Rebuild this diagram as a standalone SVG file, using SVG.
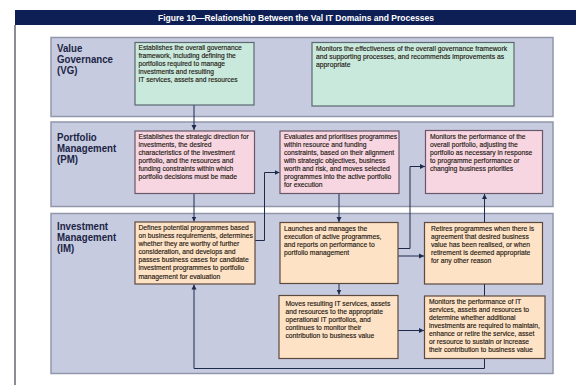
<svg xmlns="http://www.w3.org/2000/svg" width="576" height="385" viewBox="0 0 576 385">
<style>
.band{fill:#c6cbe0;stroke:#9196ab;stroke-width:1.5}
.lbl{font-family:"Liberation Sans",Arial,sans-serif;font-weight:bold;font-size:11px;fill:#1c2444}
.t{font-family:"Liberation Sans",Arial,sans-serif;font-size:7.5px;fill:#24160f;stroke:#24160f;stroke-width:0.15}
.vg{fill:#c9e9dd;stroke:#5d6870;stroke-width:1.2}
.pm{fill:#f7d6e2;stroke:#6a5868;stroke-width:1.2}
.im{fill:#fde2c6;stroke:#5e4a3c;stroke-width:1.2}
.c{fill:none;stroke:#1e2a4a;stroke-width:1}
</style>
<defs>
<marker id="ah" markerWidth="6" markerHeight="6" refX="5" refY="3" orient="auto" markerUnits="userSpaceOnUse">
<path d="M0,0.5 L5,3 L0,5.5 Z" fill="#1e2a4a"/>
</marker>
</defs>
<rect x="0" y="0" width="576" height="385" fill="#ffffff"/>
<g id="frame">
<rect x="15" y="10" width="561" height="15" fill="#0e1f55"/>
<line x1="15" y1="25" x2="15" y2="385" stroke="#1a1a2a" stroke-width="1"/>
<text transform="translate(296,20.5) scale(0.95 1)" text-anchor="middle" font-family="Liberation Sans, Arial, sans-serif" font-weight="bold" font-size="9" fill="#ffffff">Figure 10—Relationship Between the Val IT Domains and Processes</text>
</g>
<g id="band-vg">
<rect class="band" x="51" y="37.5" width="502" height="79"/>
<text class="lbl" transform="translate(57,52) scale(0.88 1)"><tspan x="0" y="0">Value</tspan><tspan x="0" y="11.2">Governance</tspan><tspan x="0" y="22.4">(VG)</tspan></text>
</g>
<g id="band-pm">
<rect class="band" x="51" y="122" width="502" height="84.5"/>
<text class="lbl" transform="translate(57,140.5) scale(0.88 1)"><tspan x="0" y="0">Portfolio</tspan><tspan x="0" y="11.5">Management</tspan><tspan x="0" y="23">(PM)</tspan></text>
</g>
<g id="band-im">
<rect class="band" x="51" y="213.5" width="502" height="160"/>
<text class="lbl" transform="translate(57,229.5) scale(0.88 1)"><tspan x="0" y="0">Investment</tspan><tspan x="0" y="11.5">Management</tspan><tspan x="0" y="23">(IM)</tspan></text>
</g>
<g id="connectors">
<path class="c" d="M194,105 V130" marker-end="url(#ah)"/>
<path class="c" d="M194,193.5 V221.5" marker-end="url(#ah)"/>
<path class="c" d="M255,240.5 H264.5 V172.5 H279.5" marker-end="url(#ah)"/>
<path class="c" d="M339,193.5 V222" marker-end="url(#ah)"/>
<path class="c" d="M398,248.5 H410 V166.5 H425" marker-end="url(#ah)"/>
<path class="c" d="M398,256 H424" marker-end="url(#ah)"/>
<path class="c" d="M339,283.5 V294.5" marker-end="url(#ah)"/>
<path class="c" d="M398,330.5 H424" marker-end="url(#ah)"/>
<path class="c" d="M484.5,222.5 V194" marker-end="url(#ah)"/>
<path class="c" d="M484.5,284 V296"/>
<path class="c" d="M484.5,358.5 V368.5 H194 V284.5" marker-end="url(#ah)"/>
</g>
<g id="vg1">
<rect class="vg" x="135" y="42.5" width="119" height="62.5"/>
<text class="t" transform="translate(138.5,50) scale(0.89 1)"><tspan x="0" y="0">Establishes the overall governance</tspan><tspan x="0" y="7.9">framework, including defining the</tspan><tspan x="0" y="15.8">portfolios required to manage</tspan><tspan x="0" y="23.7">investments and resulting</tspan><tspan x="0" y="31.6">IT services, assets and resources</tspan></text>
</g>
<g id="vg2">
<rect class="vg" x="312" y="42.5" width="202" height="63.5"/>
<text class="t" transform="translate(316,51) scale(0.91 1)"><tspan x="0" y="0">Monitors the effectiveness of the overall governance framework</tspan><tspan x="0" y="7.9">and supporting processes, and recommends improvements as</tspan><tspan x="0" y="15.8">appropriate</tspan></text>
</g>
<g id="pm1">
<rect class="pm" x="135" y="131" width="119.5" height="62.5"/>
<text class="t" transform="translate(138.5,138.5) scale(0.9 1)"><tspan x="0" y="0">Establishes the strategic direction for</tspan><tspan x="0" y="8.1">investments, the desired</tspan><tspan x="0" y="16.2">characteristics of the investment</tspan><tspan x="0" y="24.3">portfolio, and the resources and</tspan><tspan x="0" y="32.4">funding constraints within which</tspan><tspan x="0" y="40.5">portfolio decisions must be made</tspan></text>
</g>
<g id="pm2">
<rect class="pm" x="280" y="131" width="119" height="62.5"/>
<text class="t" transform="translate(284,138.5) scale(0.9 1)"><tspan x="0" y="0">Evaluates and prioritises programmes</tspan><tspan x="0" y="8.1">within resource and funding</tspan><tspan x="0" y="16.2">constraints, based on their alignment</tspan><tspan x="0" y="24.3">with strategic objectives, business</tspan><tspan x="0" y="32.4">worth and risk, and moves selected</tspan><tspan x="0" y="40.5">programmes into the active portfolio</tspan><tspan x="0" y="48.6">for execution</tspan></text>
</g>
<g id="pm3">
<rect class="pm" x="425.5" y="130.5" width="117" height="63"/>
<text class="t" transform="translate(430,138.5) scale(0.9 1)"><tspan x="0" y="0">Monitors the performance of the</tspan><tspan x="0" y="8.1">overall portfolio, adjusting the</tspan><tspan x="0" y="16.2">portfolio as necessary in response</tspan><tspan x="0" y="24.3">to programme performance or</tspan><tspan x="0" y="32.4">changing business priorities</tspan></text>
</g>
<g id="im1">
<rect class="im" x="135" y="222" width="120" height="62"/>
<text class="t" transform="translate(138.5,230) scale(0.9 1)"><tspan x="0" y="0">Defines potential programmes based</tspan><tspan x="0" y="8.1">on business requirements, determines</tspan><tspan x="0" y="16.2">whether they are worthy of further</tspan><tspan x="0" y="24.3">consideration, and develops and</tspan><tspan x="0" y="32.4">passes business cases for candidate</tspan><tspan x="0" y="40.5">investment programmes to portfolio</tspan><tspan x="0" y="48.6">management for evaluation</tspan></text>
</g>
<g id="im2">
<rect class="im" x="280" y="222.5" width="118" height="61"/>
<text class="t" transform="translate(284,230.5) scale(0.9 1)"><tspan x="0" y="0">Launches and manages the</tspan><tspan x="0" y="8.1">execution of active programmes,</tspan><tspan x="0" y="16.2">and reports on performance to</tspan><tspan x="0" y="24.3">portfolio management</tspan></text>
</g>
<g id="im3">
<rect class="im" x="424.5" y="222.5" width="118" height="61.5"/>
<text class="t" transform="translate(431,230.5) scale(0.9 1)"><tspan x="0" y="0">Retires programmes when there is</tspan><tspan x="0" y="8.1">agreement that desired business</tspan><tspan x="0" y="16.2">value has been realised, or when</tspan><tspan x="0" y="24.3">retirement is deemed appropriate</tspan><tspan x="0" y="32.4">for any other reason</tspan></text>
</g>
<g id="im4">
<rect class="im" x="279" y="295.5" width="119" height="63"/>
<text class="t" transform="translate(285.5,305.5) scale(0.9 1)"><tspan x="0" y="0">Moves resulting IT services, assets</tspan><tspan x="0" y="8.1">and resources to the appropriate</tspan><tspan x="0" y="16.2">operational IT portfolios, and</tspan><tspan x="0" y="24.3">continues to monitor their</tspan><tspan x="0" y="32.4">contribution to business value</tspan></text>
</g>
<g id="im5">
<rect class="im" x="424.5" y="296" width="120.5" height="62.5"/>
<text class="t" transform="translate(429,303.5) scale(0.9 1)"><tspan x="0" y="0">Monitors the performance of IT</tspan><tspan x="0" y="8.1">services, assets and resources to</tspan><tspan x="0" y="16.2">determine whether additional</tspan><tspan x="0" y="24.3">investments are required to maintain,</tspan><tspan x="0" y="32.4">enhance or retire the service, asset</tspan><tspan x="0" y="40.5">or resource to sustain or increase</tspan><tspan x="0" y="48.6">their contribution to business value</tspan></text>
</g>
</svg>
